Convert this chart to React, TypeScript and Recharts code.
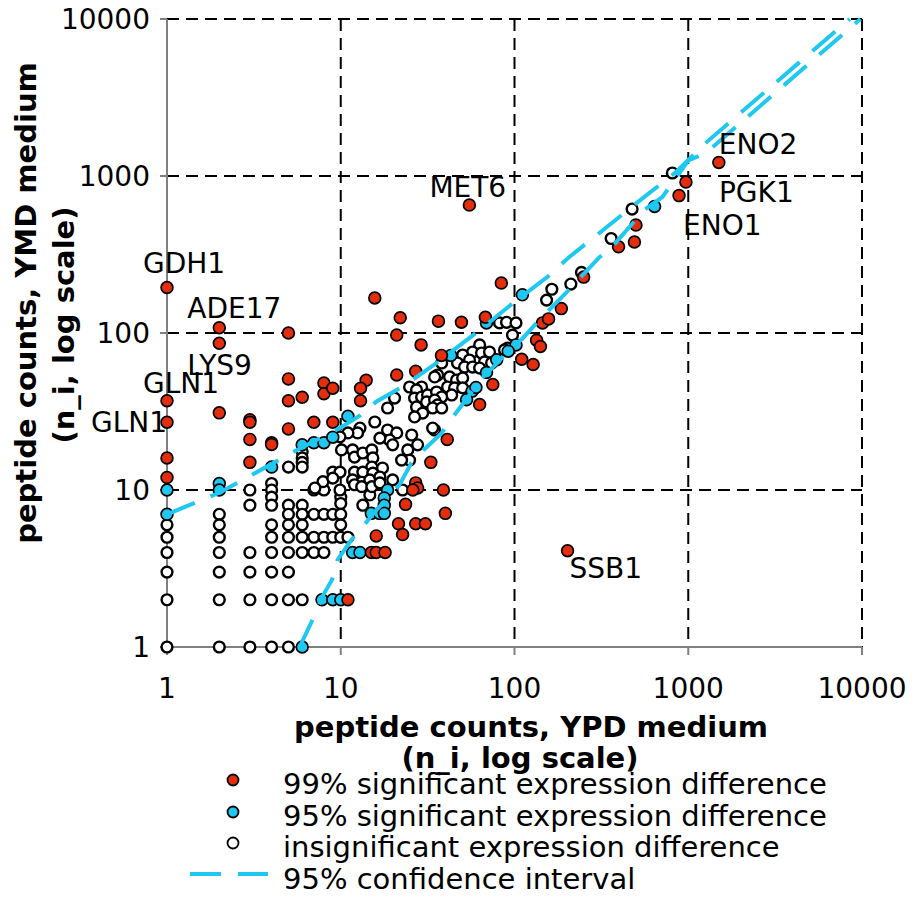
import { ScatterChart, Scatter, XAxis, YAxis, CartesianGrid, ReferenceDot } from 'recharts'

const AXIS_TICKS = [1, 10, 100, 1000, 10000]

// 99% significant expression difference (red)
const sig99: [number, number][] = [
  [1, 195], [1, 37], [1, 27], [1, 16], [1, 12],
  [2, 108], [2, 86], [2, 31],
  [3, 28], [3, 27], [3, 21], [3, 15],
  [4, 20], [4, 19.5],
  [5, 100], [5, 51], [5, 37], [5, 24.5],
  [6, 39], [7, 27], [9, 27],
  [8, 48], [8, 41], [9, 44.5],
  [13, 37], [14, 50], [13, 44.5],
  [15.7, 167], [22, 125], [21, 97], [29, 84], [38, 72],
  [21, 54], [27, 57],
  [41, 21], [33, 15], [27, 11.1], [27.7, 10.3], [26, 10], [39, 10], [23.6, 8.1], [40, 7.1],
  [21.5, 6.1], [27, 6.1], [30.7, 6.1], [22.7, 5.2], [16, 5.1], [15, 4], [16, 4], [18, 4],
  [63, 35], [84, 208], [36.5, 119], [49.5, 117], [68, 126], [186, 143], [250, 227],
  [145, 116], [157, 123], [134, 90], [141, 82], [110, 68], [128, 63], [75, 47],
  [1500, 1220], [970, 915], [885, 750], [500, 487], [490, 380], [397, 354],
  [55, 653], [202, 4.1], [11, 2],
]

// 95% significant expression difference (cyan)
const sig95: [number, number][] = [
  [1, 10], [1, 7], [2, 11], [2, 10], [4, 14], [6, 19.4], [7, 20], [8, 20], [9, 21.7], [11, 29.5],
  [11.7, 4], [12.9, 4], [7.8, 2], [9, 2], [10, 2], [6, 1],
  [43, 72], [57, 42.6], [53, 37.6], [18.6, 10], [17.8, 8.9], [17.8, 8], [15, 7.1], [16.7, 7.1], [17.8, 7.1],
  [111, 175], [69, 116], [102, 84], [92, 76.6], [79, 67.5], [69, 56], [60, 45], [640, 640],
]

// insignificant expression difference (open)
const insig: [number, number][] = [
  [1, 6], [1, 5], [1, 4], [1, 3], [1, 2], [1, 1],
  [2, 7], [2, 6], [2, 5], [2, 4], [2, 3], [2, 2], [2, 1],
  [3, 10], [3, 8], [3, 4], [3, 3], [3, 2], [3, 1],
  [4, 11], [4, 10], [4, 9], [4, 8], [4, 6], [4, 5], [4, 4], [4, 3], [4, 2], [4, 1],
  [5, 14], [5, 8], [5, 7], [5, 6], [5, 5], [5, 4], [5, 3], [5, 2], [5, 1],
  [6, 17.5], [6, 16], [6, 15], [6, 14], [6, 8], [6, 7], [6, 6], [6, 5], [6, 4], [6, 2],
  [7, 10], [7, 7], [7, 5], [7, 4],
  [8, 10], [8, 7], [8, 5], [8, 4],
  [9, 7], [9, 5],
  [10, 9], [10, 8.2], [10, 7], [10, 6], [10, 5], [11, 5],
  [13.4, 8], [14.7, 9.3], [7.9, 11.3], [7.1, 10.3],
  // lower part of the cluster
  [20.4, 38.5], [18.6, 33.3], [15.7, 27.1], [12.9, 24.8], [12.5, 23.1], [11, 23.1], [9.9, 21.8],
  [18.6, 24.1], [21, 23.1], [19.1, 20.8], [16.8, 21.4], [19.9, 19.4], [27.7, 19.4], [24.3, 18],
  [24.9, 15.5], [22.4, 15.5], [10.1, 18], [11.7, 18], [12, 16.2], [13.4, 17.2], [15.1, 18],
  [15.3, 16], [15.1, 14], [17.4, 13.8], [9, 13], [9.9, 13], [12, 13], [13.4, 13], [15.3, 12.8],
  [9, 11.9], [11.7, 11.6], [13.2, 11.2], [14.7, 11.6], [16.8, 12.1], [19.9, 11.6], [12, 10.8],
  [13.2, 10.5], [15.1, 10.5], [16.8, 11.1], [9.9, 10], [22.7, 10], [24.9, 45.3], [25.6, 22.4],
  // upper part of the cluster
  [63, 84], [57.4, 75.7], [64.6, 74.6], [71.8, 75.7], [50.3, 72.4], [55.1, 67.3], [67.2, 65.4],
  [73.8, 64.4], [47, 64.4], [51.6, 60.7], [57.4, 60.7], [63, 59.8], [38.1, 64.4], [36.1, 54],
  [34.7, 52.5], [42.3, 52.5], [46.4, 50.2], [50.3, 51.7], [41.2, 45.3], [45.2, 44.7], [50.3, 44.7],
  [43.5, 40.3], [29.2, 45.3], [27.3, 43.4], [26.6, 38.5], [29.2, 39.1], [31.6, 40.3], [35.6, 42.1],
  [38.1, 39.1], [31.2, 36.4], [34.7, 37.4], [36.1, 34.8], [27.3, 33.8], [29.6, 30.9], [26.6, 29.2],
  [33.8, 33.3], [38.1, 33.3], [34.7, 24.1], [33.8, 24.8], [91.2, 80.2], [87.6, 78], [97.4, 97],
  [82, 116], [90, 117], [102, 116],
  [164, 190], [153, 162], [211, 205], [243, 243],
  [810, 1045], [475, 616], [360, 400],
]

// 95% confidence interval bounds
const ciUpper: [number, number][] = [
  [1, 7], [2, 9.6], [3, 12.3], [5, 16.8], [6.4, 19.4], [10, 25], [13, 30], [16, 36.5],
  [22, 44.6], [27, 52], [36, 65], [60, 100], [98, 155], [155, 228], [206, 304], [337, 470],
  [543, 718], [850, 1060], [1280, 1650], [8500, 10000],
]
const ciLower: [number, number][] = [
  [5.8, 1], [6.9, 1.5], [7.8, 2.08], [8.9, 2.67], [9.6, 3.6], [11.5, 4.8], [14, 6.2], [16, 7.45],
  [19, 9], [22, 11], [25.5, 14.9], [30, 18], [38, 23], [44, 29], [53, 38], [63, 50], [79, 64],
  [93, 78], [111, 92], [139, 121], [198, 180], [307, 303], [350, 336], [560, 610], [710, 735],
  [1000, 1255], [1260, 1400], [9800, 10000],
]

const geneNames = ['GDH1', 'ADE17', 'LYS9', 'GLN1', 'GLN1', 'MET6', 'ENO2', 'PGK1', 'ENO1', 'SSB1']
const genePoints: [number, number][] = [
  [1, 195], [2, 108], [2, 86], [1, 37], [1, 27], [55, 653], [1500, 1220], [970, 915], [885, 750], [202, 4.1],
]
// label placement relative to its point (px)
const LABEL_OFFSET: [number, number][] = [
  [-24, -14], [-32, -10], [-32, 32], [-24, -8], [-76, 10], [-40, -8], [0, -8], [33, 20], [4, 39], [2, 27],
]

const RED = '#e42d0c'
const CYAN = '#1ec8f0'
const FONT = "'DejaVu Sans', sans-serif"

const toPts = (a: [number, number][]) => a.map(([x, y]) => ({ x, y }))

const dot = (fill: string, r: number, sw: number) => (props: any) => {
  const { cx, cy } = props
  if (cx == null || cy == null) return <g />
  return <circle cx={cx} cy={cy} r={r} fill={fill} stroke="#000" strokeWidth={sw} />
}

const noDot = () => <g />

const geneLabel = (name: string, i: number) => (props: any) => {
  const { cx, cy } = props
  if (cx == null || cy == null) return <g />
  const [dx, dy] = LABEL_OFFSET[i]
  return (
    <text x={cx + dx} y={cy + dy} fontSize={28} fill="#000" fontFamily={FONT}>
      {name}
    </text>
  )
}

const XTitle = () => (
  <g fontFamily={FONT} fontWeight="bold" fontSize={29} fill="#000">
    <text x={531} y={737} textAnchor="middle">peptide counts, YPD medium</text>
    <text x={520} y={768} textAnchor="middle">(n_i, log scale)</text>
  </g>
)

const YTitle = () => (
  <g fontFamily={FONT} fontWeight="bold" fontSize={29} fill="#000">
    <text x={36} y={303} textAnchor="middle" transform="rotate(-90 36 303)">peptide counts, YMD medium</text>
    <text x={74} y={325} textAnchor="middle" transform="rotate(-90 74 325)">(n_i, log scale)</text>
  </g>
)

const LEGEND_ROWS = [
  { kind: 'dot', fill: RED, text: '99% significant expression difference' },
  { kind: 'dot', fill: CYAN, text: '95% significant expression difference' },
  { kind: 'dot', fill: '#fff', text: 'insignificant expression difference' },
  { kind: 'line', fill: CYAN, text: '95% confidence interval' },
]

export default function App() {
  return (
    <div style={{ position: 'absolute', left: 0, top: 0, width: 916, height: 897, fontFamily: FONT, background: '#fff' }}>
      <ScatterChart width={916} height={897} margin={{ top: 19, right: 54, bottom: 190, left: 87 }}>
        <CartesianGrid stroke="#000" strokeWidth={2} strokeDasharray="12 7" />
        <XAxis
          type="number" dataKey="x" scale="log" domain={[1, 10000]} ticks={AXIS_TICKS}
          interval={0} height={60}
          axisLine={{ stroke: '#808080', strokeWidth: 2 }}
          tickLine={{ stroke: '#808080', strokeWidth: 2 }}
          tickSize={8} tickMargin={23}
          tick={{ fill: '#000', fontSize: 28, fontFamily: FONT }}
          label={{ content: XTitle }}
        />
        <YAxis
          type="number" dataKey="y" scale="log" domain={[1, 10000]} ticks={AXIS_TICKS}
          interval={0} width={80}
          axisLine={{ stroke: '#808080', strokeWidth: 2 }}
          tickLine={{ stroke: '#808080', strokeWidth: 2 }}
          tickSize={7} tickMargin={10}
          tick={{ fill: '#000', fontSize: 28, fontFamily: FONT }}
          label={{ content: YTitle }}
        />
        <Scatter data={toPts(insig)} shape={dot('#fff', 5.4, 2.4)} isAnimationActive={false} />
        <Scatter data={toPts(sig95)} shape={dot(CYAN, 5.9, 1.7)} isAnimationActive={false} />
        <Scatter data={toPts(sig99)} shape={dot(RED, 5.9, 1.7)} isAnimationActive={false} />
        <Scatter
          data={toPts(ciUpper)} shape={noDot} fill={CYAN} isAnimationActive={false}
          line={{ stroke: CYAN, strokeWidth: 4, strokeDasharray: '30 17' }}
        />
        <Scatter
          data={toPts(ciLower)} shape={noDot} fill={CYAN} isAnimationActive={false}
          line={{ stroke: CYAN, strokeWidth: 4, strokeDasharray: '30 17' }}
        />
        {genePoints.map(([x, y], i) => (
          <ReferenceDot key={i} x={x} y={y} r={0} ifOverflow="visible" shape={geneLabel(geneNames[i], i)} />
        ))}
      </ScatterChart>

      {/* legend */}
      <div style={{ position: 'absolute', left: 190, top: 769 }}>
        {LEGEND_ROWS.map(row => (
          <div key={row.text} style={{ display: 'flex', height: 31.5, alignItems: 'flex-start' }}>
            <svg width={93} height={31.5}>
              {row.kind === 'dot' ? (
                <circle cx={43} cy={11} r={5.5} fill={row.fill} stroke="#000" strokeWidth={1.8} />
              ) : (
                <line x1={0} x2={78} y1={10} y2={10} stroke={row.fill} strokeWidth={4} strokeDasharray="31 17" />
              )}
            </svg>
            <span style={{ fontSize: 29, lineHeight: '31.5px', color: '#000', whiteSpace: 'nowrap' }}>{row.text}</span>
          </div>
        ))}
      </div>
    </div>
  )
}
